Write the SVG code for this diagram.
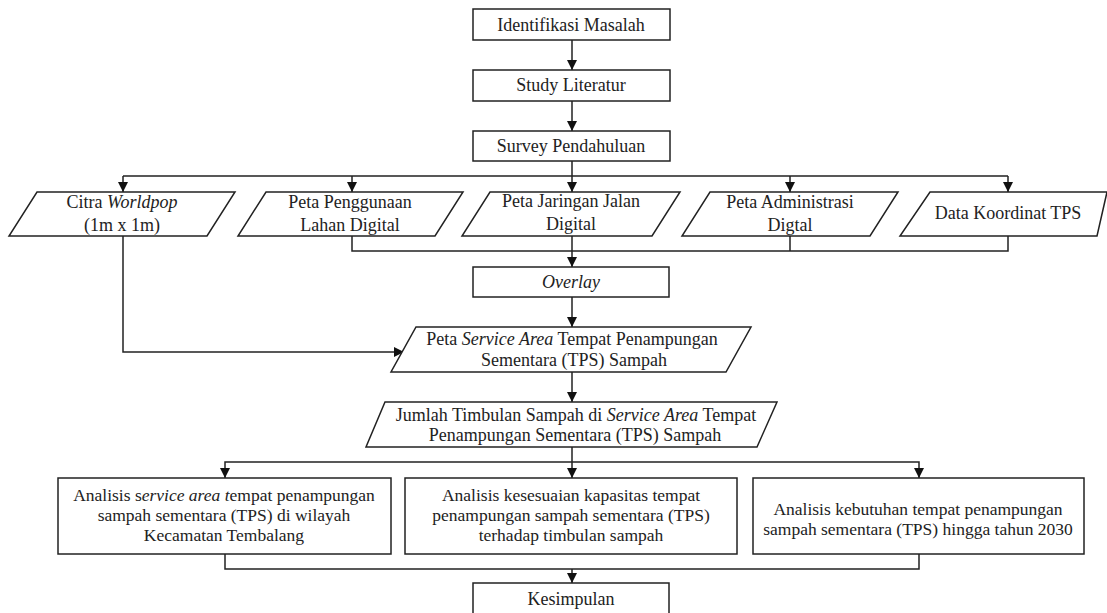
<svg xmlns="http://www.w3.org/2000/svg" width="1107" height="613" viewBox="0 0 1107 613">
<defs>
<marker id="ah" markerUnits="userSpaceOnUse" markerWidth="11" markerHeight="10" refX="10" refY="5" orient="auto">
<path d="M0,0 L10,5 L0,10 z" fill="#111"/>
</marker>
<style>
.sh{fill:#fff;stroke:#222;stroke-width:1.5}
.t{font-family:"Liberation Serif","Times New Roman",serif;font-size:18px;fill:#222;text-anchor:middle}
.s{font-size:17.5px}
.i{font-style:italic}
.c{fill:none;stroke:#222;stroke-width:1.5}
.a{marker-end:url(#ah)}
</style>
</defs>
<rect width="1107" height="613" fill="#fff"/>
<g id="connectors">
<path class="c a" d="M572,40 V70"/>
<path class="c a" d="M572,101 V131"/>
<path class="c" d="M572,161 V176 M123,176 H1008"/>
<path class="c a" d="M123,176 V192"/>
<path class="c a" d="M352,176 V192"/>
<path class="c a" d="M572,176 V192"/>
<path class="c a" d="M790,176 V192"/>
<path class="c a" d="M1008,176 V192"/>
<path class="c" d="M352,236 V251 H1008 V236 M790,236 V251"/>
<path class="c a" d="M572,236 V267"/>
<path class="c a" d="M572,297 V327"/>
<path class="c a" d="M123,236 V352 H404"/>
<path class="c a" d="M572,372 V402"/>
<path class="c a" d="M572,447 V478"/>
<path class="c a" d="M572,462 H225 V478"/>
<path class="c a" d="M572,462 H919 V478"/>
<path class="c" d="M225,554 V569 H919 V554"/>
<path class="c a" d="M572,569 V583"/>
</g>
<g id="identifikasi">
<rect class="sh" x="473" y="9" width="197" height="31"/>
<text class="t" x="571" y="31">Identifikasi Masalah</text>
</g>
<g id="study">
<rect class="sh" x="473" y="70" width="197" height="31"/>
<text class="t" x="571" y="91">Study Literatur</text>
</g>
<g id="survey">
<rect class="sh" x="473" y="131" width="197" height="30"/>
<text class="t" x="571" y="152">Survey Pendahuluan</text>
</g>
<g id="citra">
<polygon class="sh" points="37,192 235,192 207,236 9,236"/>
<text class="t" x="122" y="208">Citra <tspan class="i">Worldpop</tspan></text>
<text class="t" x="122" y="231">(1m x 1m)</text>
</g>
<g id="penggunaan">
<polygon class="sh" points="266,192 463,192 435,236 238,236"/>
<text class="t" x="350" y="208">Peta Penggunaan</text>
<text class="t" x="350" y="231">Lahan Digital</text>
</g>
<g id="jaringan">
<polygon class="sh" points="490,192 680,192 652,236 462,236"/>
<text class="t" x="571" y="207">Peta Jaringan Jalan</text>
<text class="t" x="571" y="230">Digital</text>
</g>
<g id="administrasi">
<polygon class="sh" points="710,192 898,192 870,236 682,236"/>
<text class="t" x="790" y="208">Peta Administrasi</text>
<text class="t" x="790" y="231">Digtal</text>
</g>
<g id="koordinat">
<polygon class="sh" points="930,192 1107,192 1097,236 900,236"/>
<text class="t" x="1008" y="219">Data Koordinat TPS</text>
</g>
<g id="overlay">
<rect class="sh" x="473" y="267" width="196" height="30"/>
<text class="t i" x="571" y="288">Overlay</text>
</g>
<g id="servicearea">
<polygon class="sh" points="416,327 751,327 726,372 391,372"/>
<text class="t" x="572" y="345">Peta <tspan class="i">Service Area</tspan> Tempat Penampungan</text>
<text class="t" x="574" y="366">Sementara (TPS) Sampah</text>
</g>
<g id="jumlah">
<polygon class="sh" points="385,402 777,402 757,447 366,447"/>
<text class="t" x="576" y="421">Jumlah Timbulan Sampah di <tspan class="i">Service Area</tspan> Tempat</text>
<text class="t" x="575" y="441">Penampungan Sementara (TPS) Sampah</text>
</g>
<g id="analisis1">
<rect class="sh" x="58" y="478" width="333" height="76"/>
<text class="t s" x="224" y="501">Analisis s<tspan class="i">ervice area t</tspan>empat penampungan</text>
<text class="t s" x="224" y="521">sampah sementara (TPS) di wilayah</text>
<text class="t s" x="224" y="541">Kecamatan Tembalang</text>
</g>
<g id="analisis2">
<rect class="sh" x="405" y="478" width="332" height="76"/>
<text class="t s" x="571" y="501">Analisis kesesuaian kapasitas tempat</text>
<text class="t s" x="571" y="521">penampungan sampah sementara (TPS)</text>
<text class="t s" x="571" y="541">terhadap timbulan sampah</text>
</g>
<g id="analisis3">
<rect class="sh" x="753" y="478" width="331" height="76"/>
<text class="t s" x="918" y="515">Analisis kebutuhan tempat penampungan</text>
<text class="t s" x="918" y="535">sampah sementara (TPS) hingga tahun 2030</text>
</g>
<g id="kesimpulan">
<rect class="sh" x="473" y="583" width="196" height="31"/>
<text class="t" x="571" y="605">Kesimpulan</text>
</g>
</svg>
